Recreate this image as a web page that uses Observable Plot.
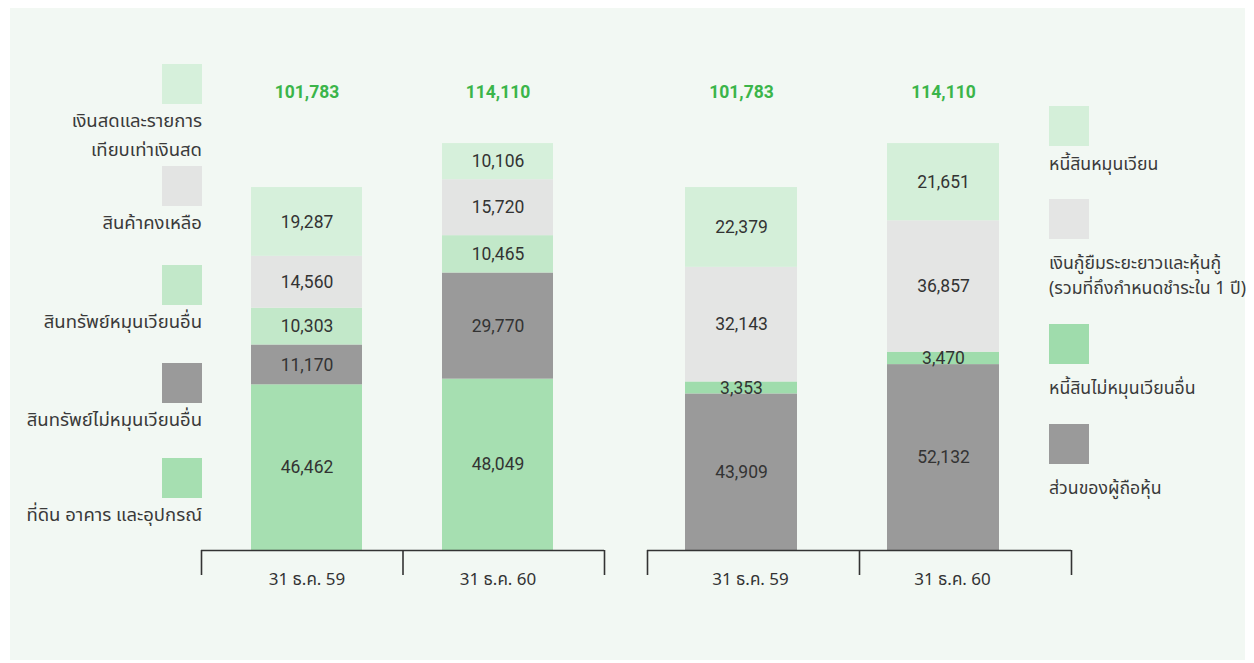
<!DOCTYPE html>
<html>
<head>
<meta charset="utf-8">
<script src="https://cdn.jsdelivr.net/npm/d3@7"></script>
<script src="https://cdn.jsdelivr.net/npm/@observablehq/plot@0.6"></script>
<style>
  html, body { margin: 0; padding: 0; background: #ffffff; }
  body { width: 1254px; height: 663px; position: relative; overflow: hidden;
         font-family: "Noto Sans Thai", "Noto Sans", "DejaVu Sans", sans-serif; }
  #panel { position: absolute; left: 10px; top: 8px; width: 1235px; height: 652px; background: #f2f8f3; }
  .chart { position: absolute; }
  .legend-item { position: absolute; font-size: 18.5px; color: #3a3a3a; line-height: 29px; white-space: pre; }
  .legend-item .sw { width: 40px; height: 40px; margin-bottom: 3px; }
  .legend-left { text-align: right; }
  .legend-left .sw { margin-left: auto; }
  .legend-right { font-size: 17.7px; }
</style>
</head>
<body>
<div id="panel"></div>
<div id="root"></div>
<script>
// ---- data ----
const dates = ["31 ธ.ค. 59", "31 ธ.ค. 60"];

const assetCategories = [
  "ที่ดิน อาคาร และอุปกรณ์",
  "สินทรัพย์ไม่หมุนเวียนอื่น",
  "สินทรัพย์หมุนเวียนอื่น",
  "สินค้าคงเหลือ",
  "เงินสดและรายการ\nเทียบเท่าเงินสด"
];
const assets59 = [46462, 11170, 10303, 14560, 19287];
const assets60 = [48049, 29770, 10465, 15720, 10106];
const assetTotals = [101783, 114110];

const liabCategories = [
  "ส่วนของผู้ถือหุ้น",
  "หนี้สินไม่หมุนเวียนอื่น",
  "เงินกู้ยืมระยะยาวและหุ้นกู้\n(รวมที่ถึงกำหนดชำระใน 1 ปี)",
  "หนี้สินหมุนเวียน"
];
const liab59 = [43909, 3353, 32143, 22379];
const liab60 = [52132, 3470, 36857, 21651];
const liabTotals = [101783, 114110];

// ---- styles ----
const assetColors = ["#a6dfb1", "#9a9a9a", "#c2e8c9", "#e3e4e3", "#d6f0db"];
const liabColors = ["#9a9a9a", "#9fdcac", "#e4e5e4", "#d4efd9"];
const fmt = d3.format(",");

function buildRows(categories, seriesByDate) {
  const rows = [];
  dates.forEach((date, j) => {
    seriesByDate[j].forEach((v, i) => rows.push({date, cat: categories[i], value: v}));
  });
  return rows;
}

function makeChart({categories, series, totals, colors, left, width, paddingInner, paddingOuter, align, labelDx}) {
  const mL = 20, mR = 20;
  const rows = buildRows(categories, series);
  const totalRows = dates.map((d, i) => ({date: d, total: totals[i]}));
  const frameW = width - mL - mR;
  const line = {stroke: "#333", strokeWidth: 1.6};
  const bracketTick = (dx) => Plot.ruleX([0], {x: null, y1: 0, y2: 0, dx, insetBottom: -25, ...line});
  const plot = Plot.plot({
    width, height: 540,
    marginLeft: mL, marginRight: mR, marginTop: 20, marginBottom: 50,
    style: {background: "transparent", fontFamily: "Roboto, 'Noto Sans', sans-serif"},
    x: {domain: dates, paddingInner, paddingOuter, align, label: null},
    y: {domain: [0, 131800], axis: null},
    color: {domain: categories, range: colors},
    marks: [
      Plot.barY(rows, {x: "date", y: "value", fill: "cat", order: null}),
      Plot.text(rows, Plot.stackY({x: "date", y: "value", order: null,
        text: d => fmt(d.value), fill: "#333", fontSize: 17.5})),
      Plot.text(totalRows, {x: "date", frameAnchor: "top", dy: 5,
        text: d => fmt(d.total), fill: "#3bb54a", fontWeight: "bold", fontSize: 17.5}),
      Plot.ruleY([0], line),
      bracketTick(-frameW / 2),
      bracketTick(0),
      bracketTick(frameW / 2),
      Plot.axisX({tickSize: 0, tickPadding: 22, dx: labelDx, fontSize: 17, fill: "#333",
        fontFamily: "'Noto Sans Thai', 'Noto Sans', sans-serif"})
    ]
  });
  plot.classList.add("chart");
  plot.style.left = left + "px";
  plot.style.top = "60px";
  return plot;
}

const root = document.getElementById("root");
root.appendChild(makeChart({
  categories: assetCategories, series: [assets59, assets60], totals: assetTotals,
  colors: assetColors, left: 181, width: 443, paddingInner: 0.417, paddingOuter: 0.258, align: 0.5, labelDx: 0
}));
root.appendChild(makeChart({
  categories: liabCategories, series: [liab59, liab60], totals: liabTotals,
  colors: liabColors, left: 627, width: 464, paddingInner: 0.446, paddingOuter: 0.272, align: 0.345, labelDx: 9
}));

// ---- legends ----
function legendItem(label, color, cls, pos, swGap, lh) {
  const div = document.createElement("div");
  div.className = "legend-item " + cls;
  Object.assign(div.style, pos);
  if (lh) div.style.lineHeight = lh + "px";
  const sw = document.createElement("div");
  sw.className = "sw";
  sw.style.background = color;
  if (swGap != null) sw.style.marginBottom = swGap + "px";
  div.appendChild(sw);
  const t = document.createElement("div");
  t.textContent = label;
  div.appendChild(t);
  root.appendChild(div);
}
const leftTops = [64, 166, 265, 363, 458];
assetCategories.slice().reverse().forEach((c, i) => {
  const color = assetColors[assetCategories.length - 1 - i];
  legendItem(c, color, "legend-left", {right: (1254 - 202) + "px", top: leftTops[i] + "px", width: "300px"}, 3, 29);
});
const rightTops = [106, 199, 324, 424];
const rightGaps = [5, 12, 11, 11];
liabCategories.slice().reverse().forEach((c, i) => {
  const color = liabColors[liabCategories.length - 1 - i];
  legendItem(c, color, "legend-right", {left: "1049px", top: rightTops[i] + "px"},
    rightGaps[i], i === 1 ? 25 : 28);
});
</script>
</body>
</html>
